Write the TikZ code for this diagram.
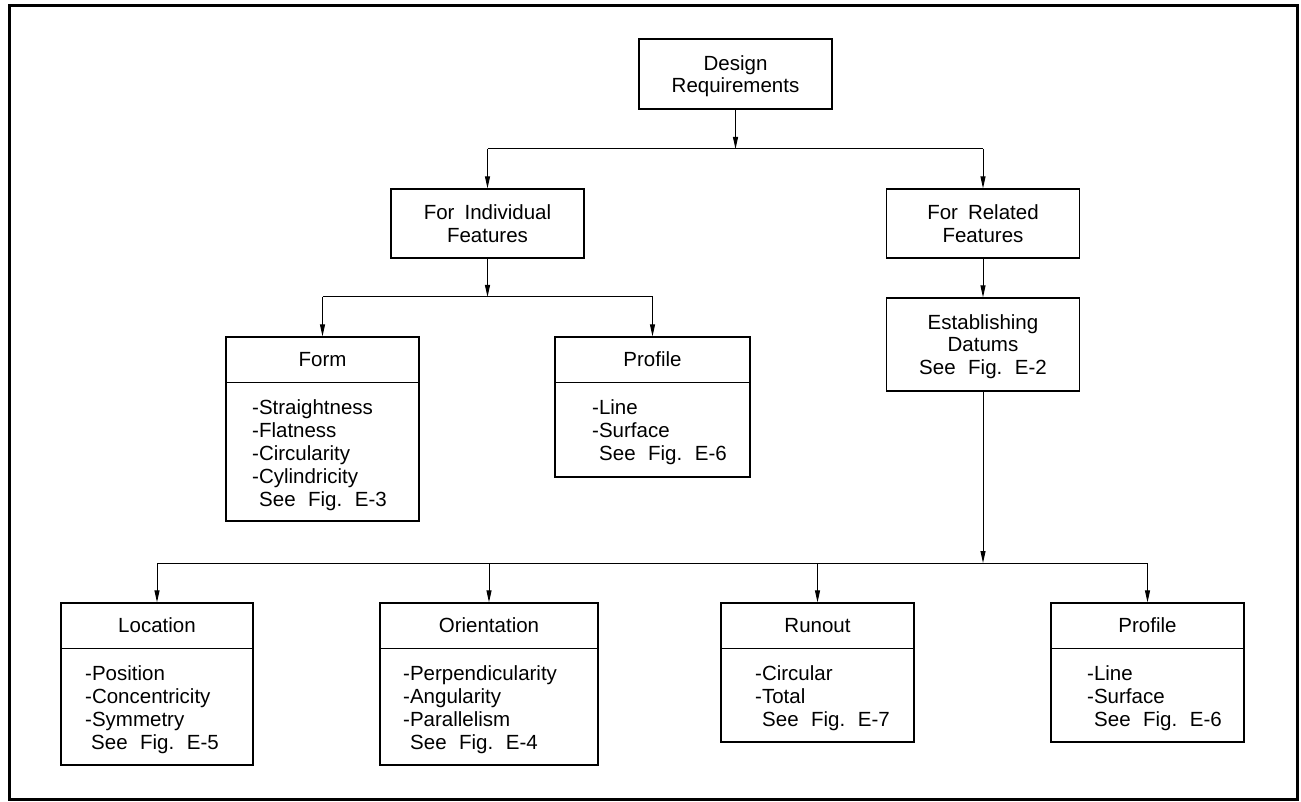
\documentclass[tikz,border=0pt]{standalone}
\usepackage{fontspec}
\setmainfont{Liberation Sans}
\usetikzlibrary{arrows.meta}
\newcommand\mygap{\hspace{12.5pt}}
\begin{document}
\begin{tikzpicture}[x=1pt,y=-1pt,
  every node/.style={font=\fontsize{20.5}{22.5}\selectfont},
  box/.style={draw, line width=1.3pt, inner sep=0pt, align=center},
  title/.style={anchor=base, inner sep=0pt},
  item/.style={anchor=base west, inner sep=0pt},
  div/.style={line width=1.3pt},
  conn/.style={line width=1pt},
  arr/.style={conn, -{Triangle[length=12pt,width=5pt]}}]
\useasboundingbox (0,0) rectangle (1301,802);
\draw[line width=3pt] (9.5,5.5) rectangle (1297,799);

% top level boxes
\node[box, minimum width=193pt, minimum height=70pt] (design) at (735.5,74) {Design\\\smash{Requirements}};
\node[box, minimum width=193pt, minimum height=69pt] (indiv) at (487.5,223.5) {For\hspace{10pt}Individual\\Features};
\node[box, minimum width=193pt, minimum height=69pt] (related) at (983,223.5) {For\hspace{10pt}Related\\Features};
\node[box, minimum width=193pt, minimum height=93pt] (estab) at (983,344.5) {Establishing\\Datums\\\smash{See\mygap Fig.\mygap E-2}};

% compartment boxes
\node[box, minimum width=193pt, minimum height=184pt] (form) at (322.5,429) {};
\node[box, minimum width=195pt, minimum height=140pt] (prof1) at (652.5,407) {};
\node[box, minimum width=192pt, minimum height=162pt] (loc) at (157,684) {};
\node[box, minimum width=218pt, minimum height=162pt] (orient) at (489,684) {};
\node[box, minimum width=193pt, minimum height=139pt] (runout) at (817.5,672.5) {};
\node[box, minimum width=193pt, minimum height=139pt] (prof2) at (1147.5,672.5) {};

% titles and dividers
\foreach \b/\t in {form/Form, prof1/Profile, loc/Location, orient/Orientation, runout/Runout, prof2/Profile}{
  \node[title] (\b-t) at ([yshift=-30.5pt]\b.north) {\t};
  \draw[div] ([yshift=-46pt]\b.north west) -- ([yshift=-46pt]\b.north east);
}

% lists
\foreach \t [count=\i] in {-Straightness,-Flatness,-Circularity,-Cylindricity}
  \node[item] (form-\i) at (252,{414+(\i-1)*23.2}) {\t};
\node[item] (form-see) at (259,{414+4*23.2}) {See\mygap Fig.\mygap E-3};

\foreach \t [count=\i] in {-Line,-Surface}
  \node[item] (prof1-\i) at (592,{414+(\i-1)*23.2}) {\t};
\node[item] (prof1-see) at (599,{414+2*23.2}) {See\mygap Fig.\mygap E-6};

\foreach \t [count=\i] in {-Position,-Concentricity,-Symmetry}
  \node[item] (loc-\i) at (85,{680+(\i-1)*23.2}) {\t};
\node[item] (loc-see) at (91,{680+3*23.2}) {See\mygap Fig.\mygap E-5};

\foreach \t [count=\i] in {-Perpendicularity,-Angularity,-Parallelism}
  \node[item] (orient-\i) at (403,{680+(\i-1)*23.2}) {\t};
\node[item] (orient-see) at (410,{680+3*23.2}) {See\mygap Fig.\mygap E-4};

\foreach \t [count=\i] in {-Circular,-Total}
  \node[item] (runout-\i) at (755,{680+(\i-1)*23.2}) {\t};
\node[item] (runout-see) at (762,{680+2*23.2}) {See\mygap Fig.\mygap E-7};

\foreach \t [count=\i] in {-Line,-Surface}
  \node[item] (prof2-\i) at (1087,{680+(\i-1)*23.2}) {\t};
\node[item] (prof2-see) at (1094,{680+2*23.2}) {See\mygap Fig.\mygap E-6};

% junctions
\coordinate (j1) at (735.5,149);
\coordinate (j2) at (487.5,297);
\coordinate (j3) at (983,563);

% connectors
\draw[arr] (design.south) -- (j1);
\draw[conn] (indiv.north |- j1) -- (related.north |- j1);
\draw[arr] (indiv.north |- j1) -- (indiv.north);
\draw[arr] (related.north |- j1) -- (related.north);

\draw[arr] (indiv.south) -- (j2);
\draw[conn] (form.north |- j2) -- (prof1.north |- j2);
\draw[arr] (form.north |- j2) -- (form.north);
\draw[arr] (prof1.north |- j2) -- (prof1.north);

\draw[arr] (related.south) -- (estab.north);
\draw[arr] (estab.south) -- (j3);
\draw[conn] (loc.north |- j3) -- (prof2.north |- j3);
\draw[arr] (loc.north |- j3) -- (loc.north);
\draw[arr] (orient.north |- j3) -- (orient.north);
\draw[arr] (runout.north |- j3) -- (runout.north);
\draw[arr] (prof2.north |- j3) -- (prof2.north);
\end{tikzpicture}
\end{document}
